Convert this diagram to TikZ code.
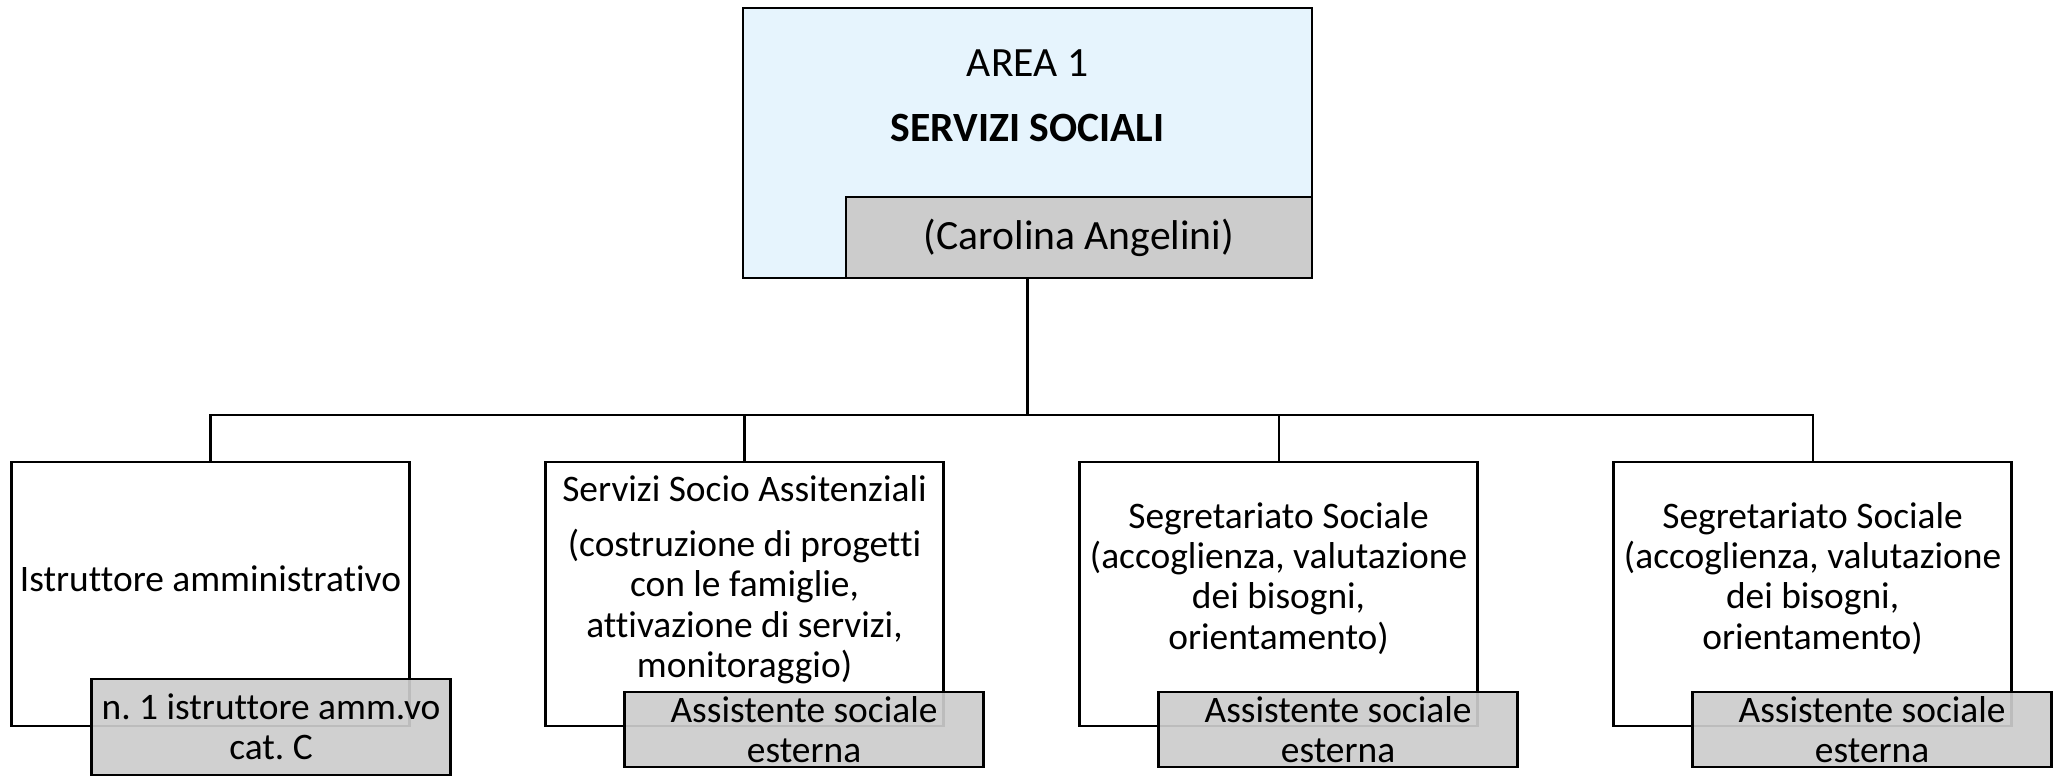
\documentclass[tikz,border=0pt]{standalone}
\usepackage{fontspec}
\setmainfont{Carlito}[Ligatures={NoCommon}]
\usepackage{xcolor}
\usepackage{tikz}
\usetikzlibrary{positioning,calc}
\definecolor{areablue}{RGB}{230,244,253}
\definecolor{staffgrey}{RGB}{204,204,204}
\frenchspacing

\begin{document}
\begin{tikzpicture}[
    x=0.02cm, y=-0.02cm,
    font=\fontsize{21.3}{23}\selectfont,
    areanode/.style={rectangle, draw=black, line width=1.5pt, fill=areablue, minimum width=11.38cm, minimum height=5.4cm},
    unitnode/.style={rectangle, draw=black, line width=1.5pt, fill=white, minimum width=7.96cm, minimum height=5.28cm},
    staffnode/.style={rectangle, draw=black, line width=1.5pt, fill=staffgrey, fill opacity=0.92, text opacity=1, minimum width=7.18cm, minimum height=1.5cm, inner sep=0pt, align=center},
    labeltext/.style={inner sep=0pt, align=center},
    headtext/.style={labeltext, font=\fontsize{23.7}{28}\selectfont},
    link/.style={draw=black, line width=1.2pt},
    ]
    \useasboundingbox (0,0) rectangle (2063,776);

    %Nodes
    \node[areanode]  (area)  at (1027.5,143)      {};
    \node[staffnode, headtext, fill opacity=1, anchor=south east, minimum width=9.32cm, minimum height=1.62cm]
                     (head)  at (area.south east) {(Carolina Angelini)};
    \node[unitnode]  (unit1) at (210.5,594)       {};
    \node[unitnode]  (unit2) [right=2.67cm of unit1] {};
    \node[unitnode]  (unit3) [right=2.67cm of unit2] {};
    \node[unitnode]  (unit4) [right=2.67cm of unit3] {};

    % Staff boxes (over the bottom of each unit)
    \node[staffnode, anchor=south west, minimum height=1.92cm] (staff1) at ($(unit1.south west)+(80,49)$) {n. 1 istruttore amm.vo\\cat. C};
    \node[staffnode, anchor=south west] (staff2) at ($(unit2.south west)+(79,41)$) {Assistente sociale\\esterna};
    \node[staffnode, anchor=south west] (staff3) at ($(unit3.south west)+(79,41)$) {Assistente sociale\\esterna};
    \node[staffnode, anchor=south west] (staff4) at ($(unit4.south west)+(79,41)$) {Assistente sociale\\esterna};

    % Text labels
    \node[headtext, anchor=base] (areaname)  at ($(area.north)+(0,70)$)   {AREA 1};
    \node[headtext, anchor=base] (areatitle) at ($(area.north)+(0,135)$)  {\textbf{SERVIZI SOCIALI}};
    \node[labeltext, anchor=base]  (unit1text) at ($(unit1.north)+(0,131)$) {Istruttore amministrativo};
    \node[labeltext, anchor=north] (unit2text) at ($(unit2.north)+(0,14)$)
        {Servizi Socio Assitenziali\\[0.3cm](costruzione di progetti\\con le famiglie,\\attivazione di servizi,\\monitoraggio)};
    \node[labeltext, anchor=north] (unit3text) at ($(unit3.north)+(0,41)$)
        {Segretariato Sociale\\(accoglienza, valutazione\\dei bisogni,\\orientamento)};
    \node[labeltext, anchor=north] (unit4text) at ($(unit4.north)+(0,41)$)
        {Segretariato Sociale\\(accoglienza, valutazione\\dei bisogni,\\orientamento)};

    %Lines
    \coordinate (bus) at ($(area.south)+(0,136)$);
    \draw[link] (area.south)  -- (bus);
    \draw[link] (unit1.north) |- (bus) -| (unit4.north);
    \draw[link] (unit2.north) -- (unit2.north |- bus);
    \draw[link] (unit3.north) -- (unit3.north |- bus);
\end{tikzpicture}
\end{document}
